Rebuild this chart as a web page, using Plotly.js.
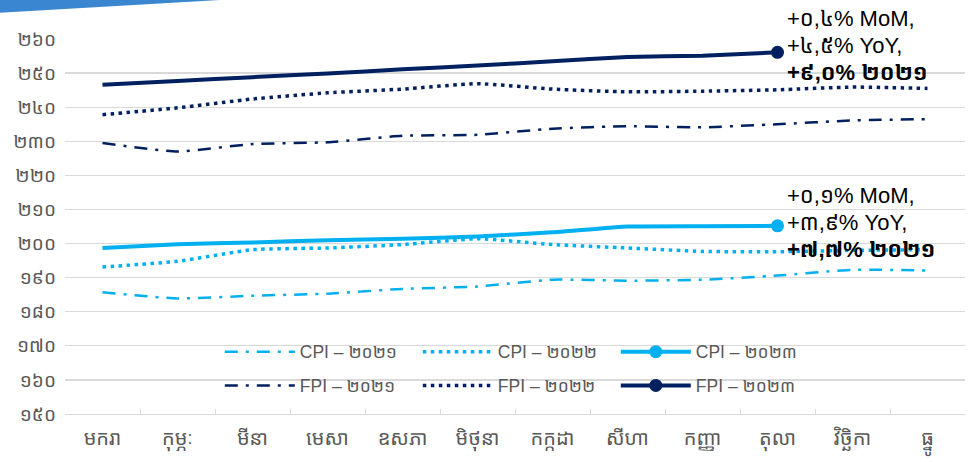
<!DOCTYPE html>
<html>
<head>
<meta charset="utf-8">
<script src="https://cdn.plot.ly/plotly-3.0.1.min.js"></script>
<style>
  html, body { margin: 0; padding: 0; background: #fff; }
  #chart { width: 968px; height: 462px; }
</style>
</head>
<body>
<div id="chart"></div>
<script>
// ---- data ----
const months = ['មករា','កុម្ភៈ','មីនា','មេសា','ឧសភា','មិថុនា','កក្កដា','សីហា','កញ្ញា','តុលា','វិច្ឆិកា','ធ្នូ'];
const yTickVals = [150,160,170,180,190,200,210,220,230,240,250,260];
const yTickText = ['១៥០','១៦០','១៧០','១៨០','១៩០','២០០','២១០','២២០','២៣០','២៤០','២៥០','២៦០'];

const cpi2021 = [185.7,183.9,184.7,185.3,186.7,187.4,189.4,189.1,189.4,190.6,192.3,192.1];
const cpi2022 = [193.1,194.8,198.2,198.7,199.7,201.4,199.7,198.7,197.7,197.6,198.0,198.2];
const cpi2023 = [198.7,199.8,200.3,201.0,201.4,202.1,203.3,205.0,205.1,205.2];
const fpi2021 = [229.5,227.0,229.2,229.7,231.6,231.9,233.7,234.4,234.1,235.0,236.1,236.5];
const fpi2022 = [237.8,239.8,242.4,244.2,245.3,246.9,245.3,244.5,244.7,245.1,245.9,245.5];
const fpi2023 = [246.6,247.7,248.8,249.9,251.1,252.2,253.5,254.7,255.1,256.1];

const seriesNames = ['CPI – ២០២១','CPI – ២០២២','CPI – ២០២៣','FPI – ២០២១','FPI – ២០២២','FPI – ២០២៣'];
const fpiNote = ['+០,៤% MoM,', '+៤,៥% YoY,', '+៩,០% ២០២១'];
const cpiNote = ['+០,១% MoM,', '+៣,៩% YoY,', '+៧,៧% ២០២១'];

// ---- styles ----
const LIGHT = '#00b0f0';
const DARK = '#002060';
const FONT = 'Liberation Sans, Arial, "Noto Sans Khmer", "Khmer OS", sans-serif';
const DASHDOT = '13px,8px,3px,8px';
const DOT = '3.5px,4.5px';

function line(y, name, color, dash, width, legend, lastMarker, smooth) {
  const t = {
    type: 'scatter',
    x: months.slice(0, y.length),
    y: y,
    name: name,
    legend: legend,
    mode: lastMarker ? 'lines+markers' : 'lines',
    line: {color: color, width: width, dash: dash, shape: 'spline', smoothing: smooth},
    hoverinfo: 'skip',
    cliponaxis: false
  };
  if (lastMarker) {
    t.marker = {size: 13, color: color};
    t.selectedpoints = [y.length - 1];
    t.selected = {marker: {opacity: 1}};
    t.unselected = {marker: {opacity: 0}};
  }
  return t;
}

const data = [
  line(cpi2021, seriesNames[0], LIGHT, DASHDOT, 2.5, 'legend', false, 0.5),
  line(cpi2022, seriesNames[1], LIGHT, DOT, 3.5, 'legend', false, 0.5),
  line(cpi2023, seriesNames[2], LIGHT, 'solid', 4, 'legend', true, 0.3),
  line(fpi2021, seriesNames[3], DARK, DASHDOT, 2.5, 'legend2', false, 0.5),
  line(fpi2022, seriesNames[4], DARK, DOT, 3.5, 'legend2', false, 0.5),
  line(fpi2023, seriesNames[5], DARK, 'solid', 4, 'legend2', true, 0.3)
];

function noteLines(arr, xCat, yVal, baseShift) {
  const gap = 27;
  return arr.map((txt, i) => ({
    x: xCat, y: yVal, xref: 'x', yref: 'y',
    text: i === 2 ? '<b>' + txt + '</b>' : txt,
    showarrow: false,
    xanchor: 'left', yanchor: 'middle', align: 'left',
    xshift: 7, yshift: baseShift + (1 - i) * gap,
    font: {family: FONT, size: 22, color: '#000000'}
  }));
}

const legendStyle = {
  orientation: 'h',
  xanchor: 'left',
  yanchor: 'middle',
  bgcolor: 'rgba(0,0,0,0)',
  font: {family: FONT, size: 17.5, color: '#595959'},
  entrywidth: 113,
  entrywidthmode: 'pixels',
  itemwidth: 70,
  traceorder: 'normal'
};

const layout = {
  width: 968,
  height: 462,
  margin: {l: 65, r: 3, t: 39, b: 48},
  paper_bgcolor: '#ffffff',
  plot_bgcolor: '#ffffff',
  font: {family: FONT, color: '#595959'},
  showlegend: true,
  legend: Object.assign({x: 0.172, y: 0.166}, legendStyle),
  legend2: Object.assign({x: 0.172, y: 0.076}, legendStyle),
  xaxis: {
    type: 'category',
    categoryorder: 'array',
    categoryarray: months,
    range: [-0.5, 11.5],
    showgrid: false,
    showline: true,
    linecolor: '#d9d9d9',
    linewidth: 1.3,
    ticks: 'inside',
    tickson: 'boundaries',
    ticklen: 5,
    tickcolor: '#d9d9d9',
    tickfont: {family: FONT, size: 20, color: '#595959'},
    ticklabelstandoff: 6,
    zeroline: false,
    fixedrange: true
  },
  yaxis: {
    range: [150, 260],
    tickvals: yTickVals,
    ticktext: yTickText,
    showgrid: true,
    gridcolor: '#d9d9d9',
    gridwidth: 1.3,
    showline: false,
    zeroline: false,
    ticks: '',
    tickfont: {family: FONT, size: 19, color: '#595959'},
    ticklabelstandoff: 8,
    fixedrange: true
  },
  annotations: [].concat(
    noteLines(fpiNote, months[fpi2023.length - 1], fpi2023[fpi2023.length - 1], 7),
    noteLines(cpiNote, months[cpi2023.length - 1], cpi2023[cpi2023.length - 1], 3)
  ),
  shapes: [
    {
      type: 'path', xref: 'paper', yref: 'paper',
      path: 'M -0.0722,1.1048 L 0.1778,1.1048 L -0.0722,1.0701 Z',
      fillcolor: '#3a86d0', line: {width: 0}, layer: 'above'
    }
  ]
};

Plotly.newPlot('chart', data, layout, {displayModeBar: false, staticPlot: true});
</script>
</body>
</html>
